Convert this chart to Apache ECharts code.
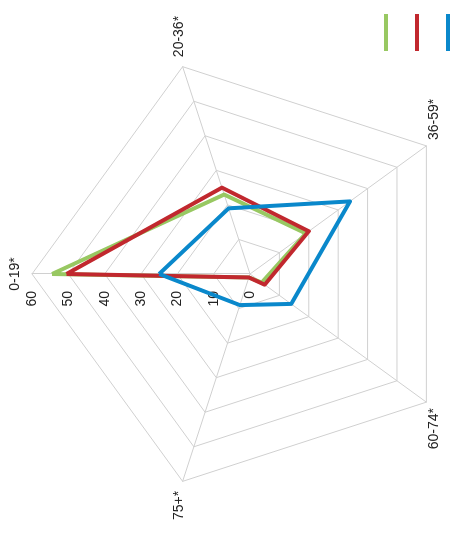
<!DOCTYPE html>
<html>
<head>
<meta charset="utf-8">
<script src="https://cdn.jsdelivr.net/npm/echarts@6/dist/echarts.min.js"></script>
<style>
html,body{margin:0;padding:0;background:#fff;overflow:hidden;}
#wrap{position:absolute;left:0;top:0;width:462px;height:539px;overflow:hidden;}
#chart{position:absolute;left:0;top:0;width:539px;height:462px;transform-origin:0 0;transform:translate(0,539px) rotate(-90deg);}
</style>
</head>
<body>
<div id="wrap"><div id="chart"></div></div>
<script>
const categories = ['0-19*', '20-36*', '36-59*', '60-74*', '75+*'];
const seriesNames = ['Series 1', 'Series 2', 'Series 3'];
const greenValues = [54.5, 23, 19, 4, 1];
const redValues = [50.5, 25, 20, 5, 1];
const blueValues = [25, 19, 34, 14, 9];
const colors = ['#98c862', '#c1282e', '#0a88cb'];
const axisMax = 60;

// ECharts places indicators counter-clockwise; reference runs clockwise
const order = [0, 4, 3, 2, 1];
const indicator = order.map((i, k) => {
  const o = { name: categories[i], min: 0, max: axisMax };
  if (k === 0) o.axisLabel = { show: true };
  return o;
});
const reorder = arr => order.map(i => arr[i]);
const allValues = [greenValues, redValues, blueValues];

const chart = echarts.init(document.getElementById('chart'), null, { renderer: 'canvas' });
chart.setOption({
  animation: false,
  color: colors,
  legend: {
    orient: 'vertical',
    right: 9,
    top: 379,
    itemWidth: 37,
    itemHeight: 4,
    itemGap: 27,
    icon: 'rect',
    formatter: () => '',
    data: seriesNames
  },
  radar: {
    center: [265, 250],
    radius: 218,
    startAngle: 90,
    splitNumber: 6,
    shape: 'polygon',
    axisNameGap: 10,
    axisName: { color: '#222', fontSize: 14, fontFamily: 'Liberation Sans, Arial, sans-serif' },
    axisLine: { lineStyle: { color: '#d0d0d0', width: 1 } },
    splitLine: { lineStyle: { color: '#d0d0d0', width: 1 } },
    splitArea: { show: false },
    axisTick: { show: false },
    axisLabel: { show: false, color: '#222', fontSize: 14, margin: 17, fontFamily: 'Liberation Sans, Arial, sans-serif' },
    indicator: indicator
  },
  series: [{
    type: 'radar',
    symbol: 'none',
    data: allValues.map((v, s) => ({
      name: seriesNames[s],
      value: reorder(v),
      lineStyle: { color: colors[s], width: 4 },
      itemStyle: { color: colors[s] }
    }))
  }]
});
</script>
</body>
</html>
